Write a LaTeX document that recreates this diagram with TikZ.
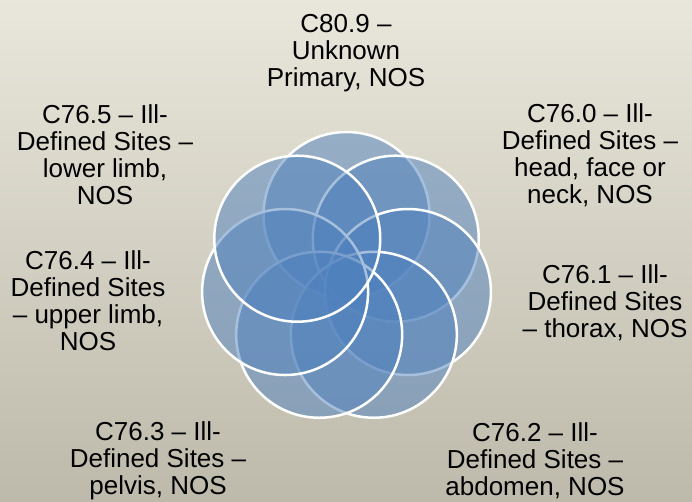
\documentclass[tikz,border=0pt]{standalone}
\usepackage{fontspec}
\setmainfont{Liberation Sans}
\usetikzlibrary{calc}
\definecolor{bgtop}{RGB}{233,231,219}
\definecolor{bgbottom}{RGB}{189,186,171}
\definecolor{petalblue}{RGB}{79,129,189}
\tikzstyle{petal} = [circle, draw=white, line width=2.5pt, fill=petalblue,
    fill opacity=0.5, draw opacity=1, minimum size=166pt, inner sep=0pt]
\tikzstyle{site} = [align=center, text=black, inner sep=0pt,
    font=\fontsize{26}{27}\selectfont]

\begin{document}
\begin{tikzpicture}[x=1pt, y=-1pt]
    % Background
    \useasboundingbox (0,0) rectangle (692,502);
    \shade [top color=bgtop, bottom color=bgbottom] (0,0) rectangle (692,502);

    % Place petals
    \coordinate (hub) at (346.5,278);
    \foreach \i in {0,...,6}
        \node [petal] (petal\i) at ($(hub)+({-90+\i*360/7}:63)$) {};

    % Place sites
    \node [site] (unknown) at (346,53) {C80.9 –\\Unknown\\Primary, NOS};
    \node [site] (head) at (590,155) {C76.0 – Ill-\\Defined Sites –\\head, face or\\neck, NOS};
    \node [site] (thorax) at (605,303) {C76.1 – Ill-\\Defined Sites\\– thorax, NOS};
    \node [site] (abdomen) at (535,461) {C76.2 – Ill-\\Defined Sites –\\abdomen, NOS};
    \node [site] (pelvis) at (158,461) {C76.3 – Ill-\\Defined Sites –\\pelvis, NOS};
    \node [site] (upper limb) at (88,301) {C76.4 – Ill-\\Defined Sites\\– upper limb,\\NOS};
    \node [site] (lower limb) at (105,155) {C76.5 – Ill-\\Defined Sites –\\lower limb,\\NOS};

\end{tikzpicture}
\end{document}
